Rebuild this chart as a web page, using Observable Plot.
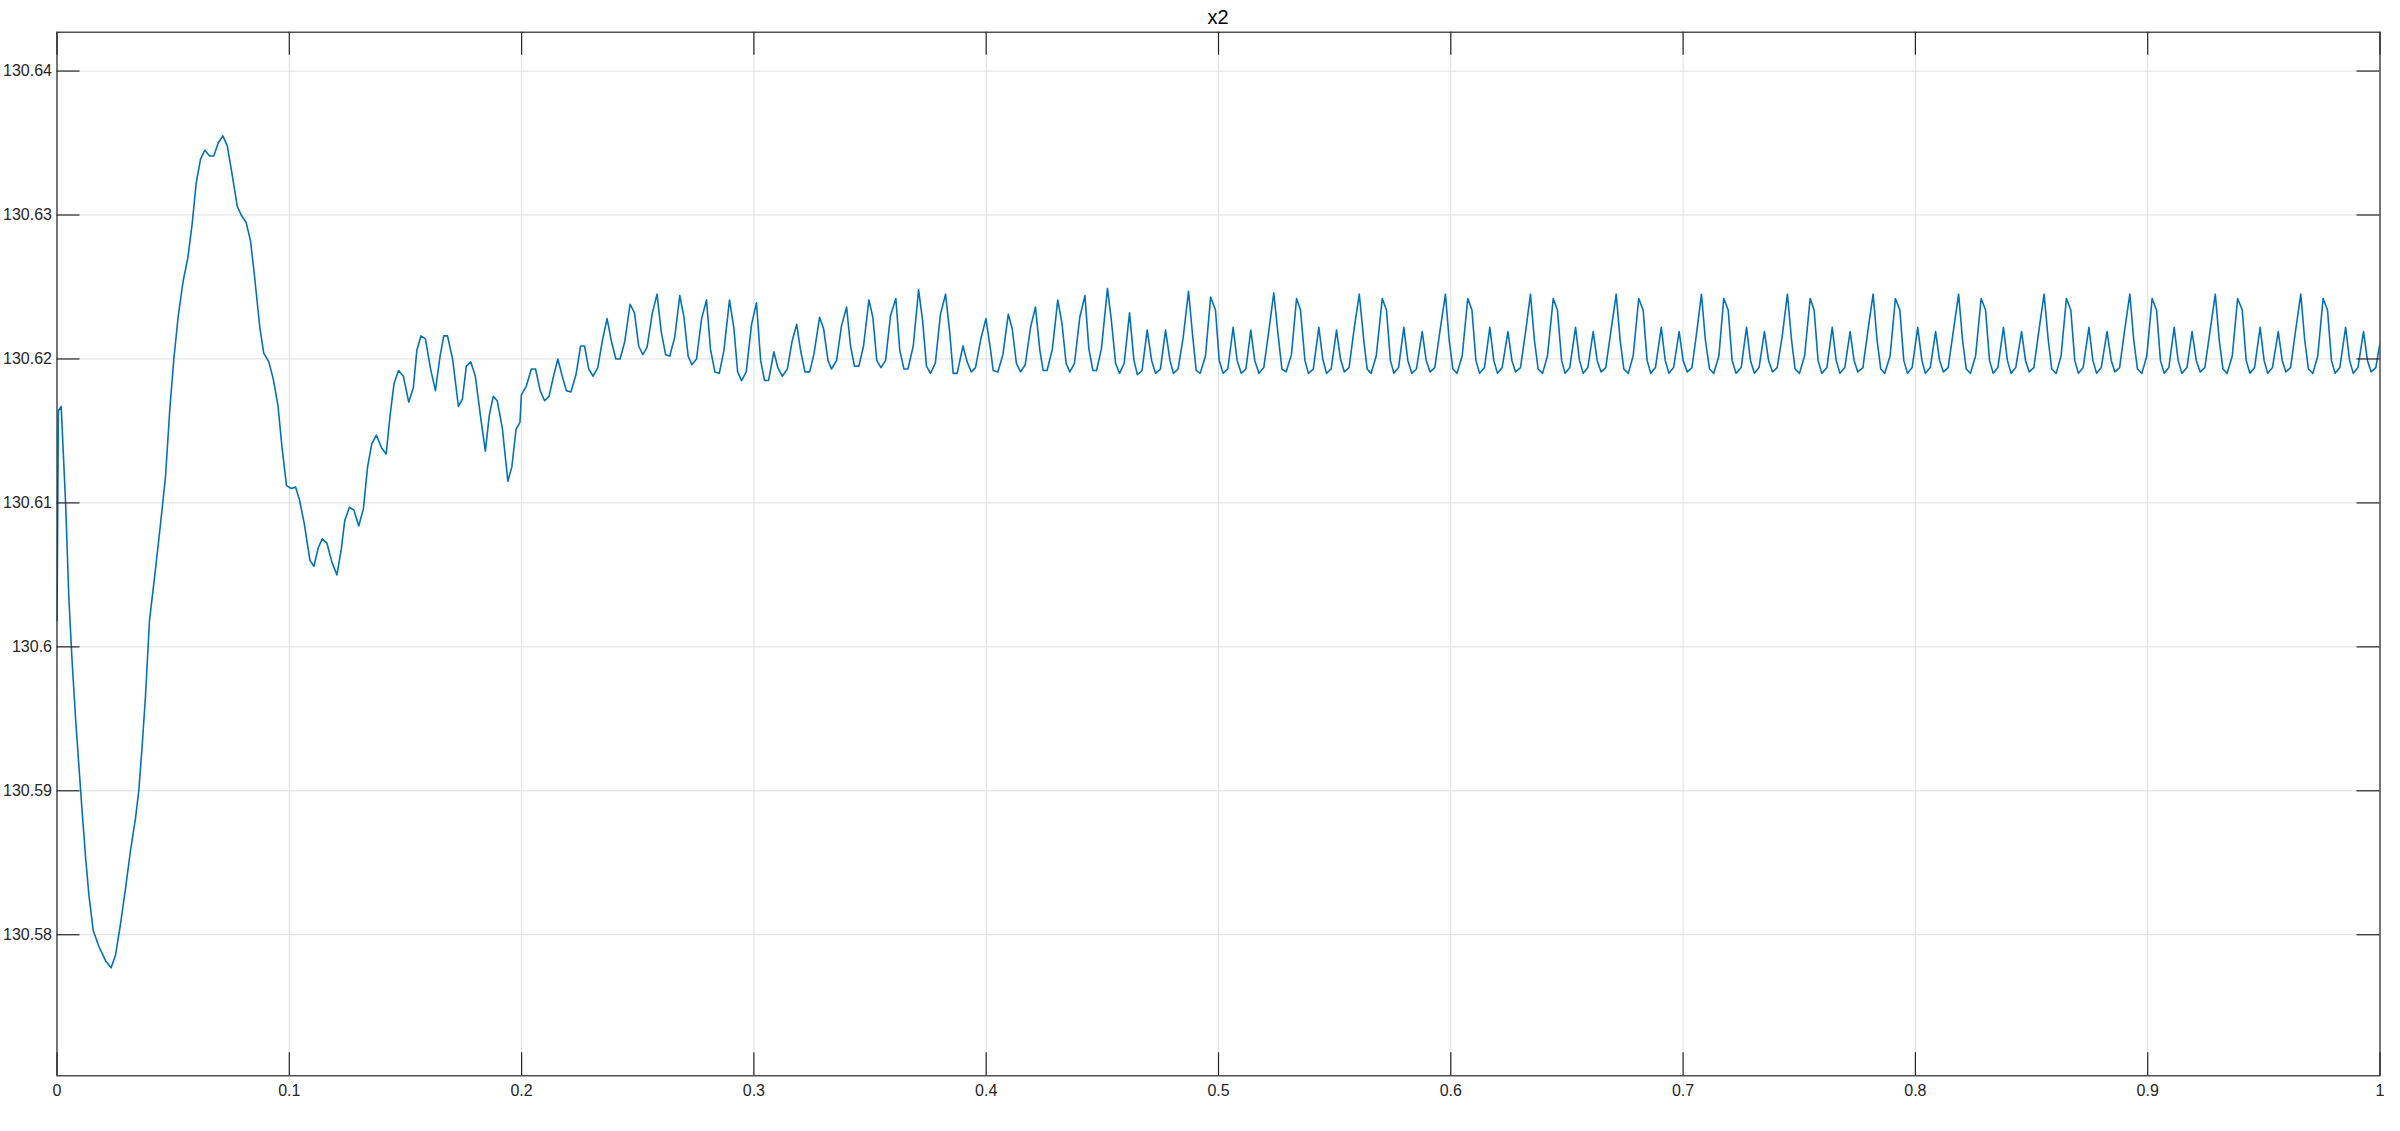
<!DOCTYPE html>
<html>
<head>
<meta charset="utf-8">
<script src="https://cdn.jsdelivr.net/npm/d3@7"></script>
<script src="https://cdn.jsdelivr.net/npm/@observablehq/plot@0.6"></script>
<style>
  html, body { margin: 0; padding: 0; background: #ffffff; }
  #wrap { position: relative; width: 2400px; height: 1131px; }
  #title { position: absolute; top: 7px; left: 56.5px; width: 2323px; text-align: center;
           font-family: "Liberation Sans", Arial, sans-serif; font-size: 20px; line-height: 1; color: #000; }
  #chart svg { display: block; }
</style>
</head>
<body>
<div id="wrap">
  <div id="chart"></div>
  <div id="title">x2</div>
</div>
<script>
// ---- data ----
const titleText = "x2";
const time = [
  0, 0.0006, 0.0018, 0.0037, 0.0051, 0.0065, 0.008, 0.0094, 0.0108, 0.0123, 0.0137, 0.0156, 0.018, 0.0209, 0.0233, 0.0252,
  0.0273, 0.0295, 0.0316, 0.0338, 0.0352, 0.0367, 0.0381, 0.0398, 0.0424, 0.0446, 0.0467, 0.0486, 0.0503, 0.0522, 0.0543,
  0.0563, 0.0582, 0.0599, 0.0618, 0.0636, 0.0657, 0.0675, 0.0694, 0.0714, 0.0733, 0.0754, 0.0776, 0.0793, 0.0814, 0.0833,
  0.085, 0.0873, 0.089, 0.0912, 0.0931, 0.0951, 0.0969, 0.0988, 0.1008, 0.1027,
  0.1044, 0.1064, 0.1089, 0.1106, 0.1125, 0.1142, 0.1162, 0.1183, 0.1205, 0.1224, 0.1239, 0.1259, 0.1278, 0.1299, 0.1319,
  0.1337, 0.1355, 0.1375, 0.1398, 0.1417, 0.1434, 0.1451, 0.147, 0.1491, 0.1514, 0.1534, 0.1549, 0.1567, 0.1586, 0.1607,
  0.1629, 0.1649, 0.1665, 0.1681, 0.1703, 0.1728, 0.1745, 0.1762, 0.1781, 0.1801, 0.1824, 0.1844, 0.1861, 0.1878, 0.1895,
  0.1917, 0.1941, 0.1958, 0.1976, 0.1993, 0.1999, 0.202, 0.2042, 0.206, 0.208, 0.2099, 0.2118, 0.2136, 0.2156, 0.2175,
  0.2193, 0.2212, 0.2234, 0.2254, 0.2271, 0.2289, 0.2308, 0.2328, 0.2348, 0.2368, 0.2387, 0.2406, 0.2424, 0.2444, 0.2467,
  0.2486, 0.2504, 0.2522, 0.254, 0.2563, 0.2583,
  0.2601, 0.262, 0.2638, 0.2659, 0.2681, 0.2699, 0.2717, 0.2733, 0.2753, 0.2775, 0.2796, 0.2813, 0.2832, 0.2851, 0.2871,
  0.2895, 0.2914, 0.293, 0.2947, 0.2967, 0.299, 0.3011, 0.3029, 0.3046, 0.3063, 0.3086, 0.3103, 0.3122, 0.3144, 0.3164,
  0.3184, 0.3202, 0.322, 0.324, 0.3258, 0.3283, 0.33, 0.3319, 0.3334, 0.3356, 0.3377, 0.3399, 0.3416, 0.3433, 0.3452,
  0.3472, 0.3495, 0.3512, 0.3529, 0.3547, 0.3567, 0.3588, 0.3611, 0.3628, 0.3646, 0.3663, 0.3686, 0.3709, 0.3726, 0.3743,
  0.376, 0.3781, 0.3803, 0.3825, 0.3842, 0.3858, 0.3875, 0.39, 0.3918, 0.3936, 0.3954, 0.3977, 0.3999, 0.4019,
  0.403, 0.405, 0.4072, 0.4095, 0.4112, 0.413, 0.4148, 0.4168, 0.4191, 0.4212, 0.4231, 0.4245, 0.4262, 0.4285, 0.4308,
  0.4326, 0.4344, 0.436, 0.438, 0.4403, 0.4425, 0.4442, 0.4459, 0.4475, 0.4496, 0.4522, 0.4538, 0.4557, 0.4574, 0.4594,
  0.4617, 0.4636, 0.4651, 0.4671, 0.4693, 0.4712, 0.4729, 0.475, 0.4772, 0.4791, 0.4806, 0.4826, 0.4848, 0.4871, 0.4887,
  0.4904, 0.4921, 0.4944, 0.4966, 0.4987, 0.5003, 0.502, 0.504, 0.5063, 0.508, 0.5098, 0.5118, 0.5139, 0.5156, 0.5174,
  0.5195, 0.5218, 0.5238, 0.5255, 0.5273, 0.5291, 0.5314, 0.5336, 0.5353, 0.5372, 0.5387, 0.5408, 0.5432, 0.5449, 0.5465,
  0.5485, 0.5508, 0.5525, 0.5542, 0.5562, 0.5584, 0.5606,
  0.5626, 0.564, 0.5657, 0.5679, 0.5705, 0.5723, 0.574, 0.5755, 0.5775, 0.5798, 0.5815, 0.5832, 0.5852, 0.5877, 0.5894,
  0.5911, 0.5931, 0.5953, 0.5977, 0.5993, 0.6009, 0.6027, 0.6049, 0.6073, 0.6091, 0.6108, 0.6124, 0.6145, 0.6168, 0.6185,
  0.6201, 0.6221, 0.6246, 0.6263, 0.6279, 0.63, 0.6322, 0.6343, 0.636, 0.6376, 0.6395, 0.6416, 0.6441, 0.6459, 0.6477,
  0.6492, 0.6512, 0.6537, 0.6554, 0.657, 0.659, 0.6613, 0.663, 0.6647, 0.6667, 0.6689, 0.6712, 0.6729, 0.6745, 0.6764,
  0.6785, 0.6809, 0.6828, 0.6845, 0.6861, 0.6881, 0.6906, 0.6923, 0.6939, 0.6959, 0.6983, 0.7, 0.7018, 0.7038, 0.7059,
  0.7079, 0.7096, 0.7114, 0.7132, 0.7154, 0.7175, 0.7194, 0.7211, 0.7228,
  0.725, 0.7273, 0.729, 0.7307, 0.7327, 0.735, 0.7368, 0.7385, 0.7405, 0.7426, 0.7449, 0.7467, 0.7482, 0.7501, 0.7523,
  0.7547, 0.7564, 0.7581, 0.7597, 0.7619, 0.7642, 0.7659, 0.7675, 0.7696, 0.7719, 0.7736, 0.7752, 0.7774, 0.7795, 0.7818,
  0.7835, 0.7851, 0.7868, 0.7891, 0.7914, 0.7933, 0.795, 0.7966, 0.7986, 0.801, 0.8028, 0.8043, 0.8064, 0.8087, 0.8104,
  0.8121, 0.8141, 0.8163, 0.8186, 0.8203, 0.8219, 0.8237, 0.8259, 0.8283, 0.8302, 0.8319, 0.8335, 0.8355, 0.8379, 0.8396,
  0.8412, 0.8432, 0.8457, 0.8474, 0.849, 0.851, 0.8531, 0.8554, 0.8572, 0.8587, 0.8606, 0.8627, 0.865, 0.8669, 0.8686,
  0.8702, 0.8722, 0.8747, 0.8764, 0.878, 0.88, 0.8825,
  0.8843, 0.8859, 0.8879, 0.89, 0.8923, 0.894, 0.8956, 0.8975, 0.8996, 0.9019, 0.9038, 0.9055, 0.9071, 0.9091, 0.9114,
  0.9131, 0.9147, 0.9169, 0.9191, 0.9209, 0.9226, 0.9246, 0.9268, 0.9291, 0.9308, 0.9324, 0.9342, 0.9364, 0.9387, 0.9407,
  0.9424, 0.944, 0.946, 0.9484, 0.9501, 0.9517, 0.9537, 0.9562, 0.9579, 0.9595, 0.9615, 0.9636, 0.9659, 0.9676, 0.9692,
  0.9711, 0.9732, 0.9755, 0.9774, 0.9791, 0.9807, 0.9827, 0.9852, 0.9869, 0.9885, 0.9905, 0.9929, 0.9946, 0.9962, 0.9982,
  1.0
];
const x2 = [
  130.6018, 130.6164, 130.6167, 130.61, 130.6034, 130.599, 130.595, 130.5918, 130.5886, 130.5854, 130.5828, 130.5803, 130.5792, 130.5782, 130.5777, 130.5786,
  130.5807, 130.5832, 130.5858, 130.5881, 130.59, 130.5932, 130.5966, 130.6018, 130.6054, 130.6086, 130.6118, 130.6166, 130.62, 130.623, 130.6254,
  130.627, 130.6294, 130.6322, 130.6339, 130.6345, 130.6341, 130.6341, 130.635, 130.6355, 130.6348, 130.6328, 130.6306, 130.63, 130.6295, 130.6282,
  130.6258, 130.6222, 130.6204, 130.6198, 130.6186, 130.6168, 130.6138, 130.6112, 130.611, 130.6111,
  130.6102, 130.6086, 130.606, 130.6056, 130.6069, 130.6075, 130.6072, 130.6059, 130.605, 130.6068, 130.6088, 130.6097, 130.6095, 130.6084, 130.6096,
  130.6125, 130.6141, 130.6147, 130.6138, 130.6134, 130.6161, 130.6183, 130.6192, 130.6188, 130.617, 130.618, 130.6206, 130.6216, 130.6214, 130.6194,
  130.6178, 130.6202, 130.6216, 130.6216, 130.62, 130.6167, 130.6172, 130.6195, 130.6198, 130.6188, 130.6159, 130.6136, 130.6161, 130.6174, 130.6171,
  130.6152, 130.6115, 130.6125, 130.6151, 130.6156, 130.6175, 130.6181, 130.6193, 130.6193, 130.6178, 130.6171, 130.6174, 130.6187, 130.62, 130.6188,
  130.6178, 130.6177, 130.6189, 130.6209, 130.6209, 130.6193, 130.6188, 130.6194, 130.6213, 130.6228, 130.6212, 130.62, 130.62, 130.6212, 130.6238,
  130.6232, 130.6209, 130.6203, 130.6208, 130.6232, 130.6245,
  130.6219, 130.6203, 130.6202, 130.6215, 130.6244, 130.6229, 130.6202, 130.6196, 130.62, 130.6228, 130.6241, 130.6207, 130.6191, 130.619, 130.6206,
  130.6241, 130.6221, 130.6191, 130.6185, 130.6191, 130.6224, 130.6239, 130.6199, 130.6185, 130.6185, 130.6205, 130.6194, 130.6188, 130.6193, 130.6212,
  130.6224, 130.6205, 130.6191, 130.6191, 130.6203, 130.6229, 130.6221, 130.6199, 130.6193, 130.6199, 130.6223, 130.6236, 130.6209, 130.6195, 130.6195,
  130.6209, 130.6241, 130.6229, 130.6199, 130.6194, 130.6199, 130.623, 130.6242, 130.6206, 130.6193, 130.6193, 130.6209, 130.6248, 130.6227, 130.6195,
  130.619, 130.6197, 130.6231, 130.6245, 130.622, 130.619, 130.619, 130.6209, 130.6198, 130.6191, 130.6194, 130.6214, 130.6228, 130.6206,
  130.6192, 130.6191, 130.6203, 130.6231, 130.6221, 130.6197, 130.6191, 130.6196, 130.6222, 130.6236, 130.6206, 130.6192, 130.6192, 130.6207, 130.6241,
  130.6225, 130.6197, 130.6191, 130.6197, 130.6229, 130.6244, 130.6207, 130.6192, 130.6192, 130.6207, 130.6249, 130.6228, 130.6197, 130.619, 130.6197,
  130.6232, 130.6199, 130.6189, 130.6192, 130.622, 130.6199, 130.619, 130.6193, 130.622, 130.6199, 130.619, 130.6193, 130.6215, 130.6247, 130.6219,
  130.6192, 130.619, 130.6202, 130.6243, 130.6234, 130.6199, 130.619, 130.6193, 130.6222, 130.6199, 130.619, 130.6193, 130.622, 130.6199, 130.619,
  130.6194, 130.6221, 130.6246, 130.6219, 130.6193, 130.6191, 130.6203, 130.6242, 130.6234, 130.6199, 130.619, 130.6193, 130.6222, 130.62, 130.619,
  130.6193, 130.622, 130.62, 130.6191, 130.6194, 130.6221, 130.6245,
  130.6212, 130.6193, 130.619, 130.6202, 130.6242, 130.6234, 130.6199, 130.619, 130.6194, 130.6222, 130.6199, 130.619, 130.6193, 130.6219, 130.6199,
  130.6191, 130.6194, 130.6219, 130.6245, 130.6213, 130.6193, 130.619, 130.6202, 130.6242, 130.6234, 130.6199, 130.619, 130.6194, 130.6222, 130.6199,
  130.619, 130.6194, 130.6219, 130.6199, 130.6191, 130.6194, 130.6219, 130.6245, 130.6213, 130.6193, 130.619, 130.6202, 130.6242, 130.6234, 130.6199,
  130.619, 130.6194, 130.6222, 130.6199, 130.619, 130.6194, 130.6219, 130.6199, 130.6191, 130.6194, 130.6219, 130.6245, 130.6213, 130.6193, 130.619,
  130.6202, 130.6242, 130.6234, 130.6199, 130.619, 130.6194, 130.6222, 130.6199, 130.619, 130.6194, 130.6219, 130.6199, 130.6191, 130.6194, 130.6219,
  130.6245, 130.6213, 130.6193, 130.619, 130.6202, 130.6242, 130.6234, 130.6199, 130.619,
  130.6194, 130.6222, 130.6199, 130.619, 130.6194, 130.6219, 130.6199, 130.6191, 130.6194, 130.6215, 130.6245, 130.6213, 130.6193, 130.619, 130.6202,
  130.6242, 130.6234, 130.6199, 130.619, 130.6194, 130.6222, 130.6199, 130.619, 130.6194, 130.6219, 130.6199, 130.6191, 130.6194, 130.6219, 130.6245,
  130.6213, 130.6193, 130.619, 130.6202, 130.6242, 130.6234, 130.6199, 130.619, 130.6194, 130.6222, 130.6199, 130.619, 130.6194, 130.6219, 130.6199,
  130.6191, 130.6194, 130.6219, 130.6245, 130.6213, 130.6193, 130.619, 130.6202, 130.6242, 130.6234, 130.6199, 130.619, 130.6194, 130.6222, 130.6199,
  130.619, 130.6194, 130.6219, 130.6199, 130.6191, 130.6194, 130.6219, 130.6245, 130.6213, 130.6193, 130.619, 130.6202, 130.6242, 130.6234, 130.6199,
  130.619, 130.6194, 130.6222, 130.6199, 130.619, 130.6194, 130.6219,
  130.6199, 130.6191, 130.6194, 130.6219, 130.6245, 130.6213, 130.6193, 130.619, 130.6202, 130.6242, 130.6234, 130.6199, 130.619, 130.6194, 130.6222,
  130.6199, 130.619, 130.6194, 130.6219, 130.6199, 130.6191, 130.6194, 130.6219, 130.6245, 130.6213, 130.6193, 130.619, 130.6202, 130.6242, 130.6234,
  130.6199, 130.619, 130.6194, 130.6222, 130.6199, 130.619, 130.6194, 130.6219, 130.6199, 130.6191, 130.6194, 130.6219, 130.6245, 130.6213, 130.6193,
  130.619, 130.6202, 130.6242, 130.6234, 130.6199, 130.619, 130.6194, 130.6222, 130.6199, 130.619, 130.6194, 130.6219, 130.6199, 130.6191, 130.6194,
  130.6211
];
const xTicks = [0, 0.1, 0.2, 0.3, 0.4, 0.5, 0.6, 0.7, 0.8, 0.9, 1];
const xTickLabels = ["0", "0.1", "0.2", "0.3", "0.4", "0.5", "0.6", "0.7", "0.8", "0.9", "1"];
const yTicks = [130.58, 130.59, 130.6, 130.61, 130.62, 130.63, 130.64];
const yTickLabels = ["130.58", "130.59", "130.6", "130.61", "130.62", "130.63", "130.64"];
const xDomain = [0, 1];
const yDomain = [130.5702, 130.6427];

// ---- layout ----
const W = 2400, H = 1131;
const mL = 56.5, mR = 20.5, mT = 31.7, mB = 55.7;
const frameW = W - mL - mR, frameH = H - mT - mB;
const tickLen = 23;
const axisColor = "#262626";
const gridColor = "#dfdfdf";
const lineColor = "#0072BD";

document.getElementById("title").textContent = titleText;

const data = time.map((t, i) => ({t, v: x2[i]}));

const chart = Plot.plot({
  width: W,
  height: H,
  marginLeft: mL,
  marginRight: mR,
  marginTop: mT,
  marginBottom: mB,
  style: {fontFamily: "'Liberation Sans', Arial, sans-serif", fontSize: "16px", color: axisColor, background: "#ffffff"},
  x: {domain: xDomain, type: "linear"},
  y: {domain: yDomain, type: "linear"},
  marks: [
    Plot.gridX(xTicks, {stroke: gridColor, strokeOpacity: 1, strokeWidth: 1}),
    Plot.gridY(yTicks, {stroke: gridColor, strokeOpacity: 1, strokeWidth: 1}),
    Plot.line(data, {x: "t", y: "v", stroke: lineColor, strokeWidth: 1.6, clip: true}),
    Plot.frame({stroke: axisColor, strokeWidth: 1.2}),
    // inward ticks on all four sides
    Plot.tickX(xTicks, {x: d => d, insetBottom: frameH - tickLen, stroke: axisColor, strokeWidth: 1.2}),
    Plot.tickX(xTicks, {x: d => d, insetTop: frameH - tickLen, stroke: axisColor, strokeWidth: 1.2}),
    Plot.tickY(yTicks, {y: d => d, insetRight: frameW - tickLen, stroke: axisColor, strokeWidth: 1.2}),
    Plot.tickY(yTicks, {y: d => d, insetLeft: frameW - tickLen, stroke: axisColor, strokeWidth: 1.2}),
    Plot.axisX(xTicks, {anchor: "bottom", tickSize: 0, tickPadding: 9, label: null,
      tickFormat: d => xTickLabels[xTicks.indexOf(d)]}),
    Plot.axisY(yTicks, {anchor: "left", tickSize: 0, tickPadding: 5, label: null,
      tickFormat: d => yTickLabels[yTicks.indexOf(d)]})
  ]
});
document.getElementById("chart").appendChild(chart);
</script>
</body>
</html>
